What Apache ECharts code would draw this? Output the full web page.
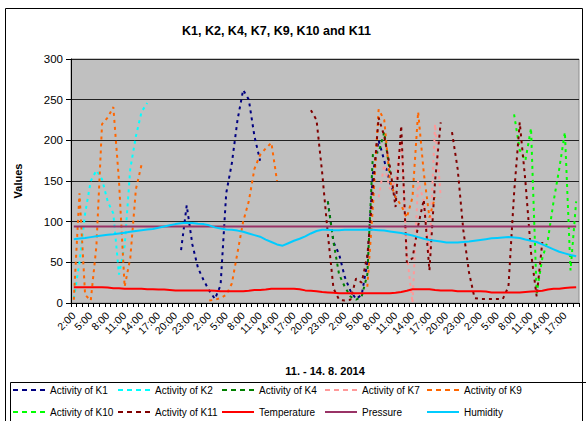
<!DOCTYPE html>
<html><head><meta charset="utf-8">
<script src="https://cdn.jsdelivr.net/npm/echarts@6/dist/echarts.min.js"></script>
<style>html,body{margin:0;padding:0;background:#fff}#c{width:586px;height:421px}</style>
</head><body><div id="c"></div>
<script>
const N = null;
// hourly categories 11.8. 2:00 ... 14.8. 19:00
const categories = [
 "2:00","3:00","4:00","5:00","6:00","7:00","8:00","9:00","10:00","11:00","12:00","13:00","14:00","15:00","16:00","17:00","18:00","19:00","20:00","21:00","22:00","23:00",
 "0:00","1:00","2:00","3:00","4:00","5:00","6:00","7:00","8:00","9:00","10:00","11:00","12:00","13:00","14:00","15:00","16:00","17:00","18:00","19:00","20:00","21:00","22:00","23:00",
 "0:00","1:00","2:00","3:00","4:00","5:00","6:00","7:00","8:00","9:00","10:00","11:00","12:00","13:00","14:00","15:00","16:00","17:00","18:00","19:00","20:00","21:00","22:00","23:00",
 "0:00","1:00","2:00","3:00","4:00","5:00","6:00","7:00","8:00","9:00","10:00","11:00","12:00","13:00","14:00","15:00","16:00","17:00","18:00","19:00"
];
const k1 = [N,N,N,N,N,N,N,N,N,N,N,N,N,N,N,N,N,N,N,
 65,120,72,43,28,15,5,22,135,172,225,262,250,205,175,
 N,N,N,N,N,N,N,N,N,N,N,
 125,75,60,32,15,5,10,50,160,200,175,148,130,
 N,N,N,N,N,N,N,N,N,N,N,N,N,N,N,N,N,N,N,N,N,N,N,N,N,N,N,N,N,N,N,N];
const k2 = [5,50,110,150,163,152,125,110,35,70,165,205,235,246,
 N,N,N,N,N,N,N,N,N,N,N,N,N,N,N,N,N,N,N,N,N,N,N,N,N,N,N,N,N,N,N,N,N,N,N,N,N,N,
 N,N,N,N,N,N,N,N,N,N,N,N,N,N,N,N,N,N,N,N,N,N,N,N,N,N,N,N,N,N,N,N,N,N,N,N,N,N];
const k4 = [N,N,N,N,N,N,N,N,N,N,N,N,N,N,N,N,N,N,N,N,N,N,N,N,N,N,N,N,N,N,N,N,N,N,N,N,N,N,N,N,N,N,N,N,N,
 125,75,35,20,8,4,8,35,185,185,210,160,
 N,N,N,N,N,N,N,N,N,N,N,N,N,N,N,N,N,N,N,N,N,N,N,N,N,N,N,N,N,N,N,N,N];
const k7 = [N,N,N,N,N,N,N,N,N,N,N,N,N,N,N,N,N,N,N,N,N,N,N,N,N,N,N,N,N,N,N,N,N,N,N,N,N,N,N,N,N,N,N,N,N,N,N,N,N,N,N,N,N,N,
 130,170,140,150,200,60,0,150,125,60,220,130,
 N,N,N,N,N,N,N,N,N,N,N,N,N,N,N,N,N,N,N,N,N,N,N,N];
const k9 = [4,135,10,3,70,220,228,241,150,20,55,140,170,
 N,N,N,N,N,N,N,N,N,N,N,
 3,4,6,10,24,62,100,125,165,182,190,197,150,
 N,N,N,N,N,N,N,N,N,N,N,N,N,N,N,
 20,120,238,225,150,130,120,105,130,235,160,105,130,
 N,N,N,N,N,N,N,N,N,N,N,N,N,N,N,N,N,N,N,N,N,N,N,N,N];
const k10 = [N,N,N,N,N,N,N,N,N,N,N,N,N,N,N,N,N,N,N,N,N,N,N,N,N,N,N,N,N,N,N,N,N,N,N,N,N,N,N,
 N,N,N,N,N,N,N,N,N,N,N,N,N,N,N,N,N,N,N,N,N,N,N,N,N,N,N,N,N,N,N,N,N,N,N,N,N,N,N,
 232,188,175,215,12,55,78,125,165,210,40,125];
const k11 = [N,N,N,N,N,N,N,N,N,N,N,N,N,N,N,N,N,N,N,N,N,N,N,N,N,N,N,N,N,N,N,N,N,N,N,N,N,N,N,N,N,N,
 237,225,160,85,18,4,3,4,30,25,58,140,228,205,168,118,218,50,55,95,127,40,150,222,
 N,
 210,165,90,38,6,5,5,5,5,5,20,135,222,150,62,8,75,
 N,N,N,N,N,N];
const temperature = [19.5,19.5,19.5,19.5,19.5,19.5,19,
 18,18,17.5,17.5,17.5,17.5,17,
 17,16.5,16.5,16,
 15.5,15.5,15.5,15.5,15.5,15.5,15.5,15,
 14.5,14.5,14.5,14.5,14.5,15,
 16,16,16.5,
 17.5,17.5,17.5,17.5,17.5,17,
 15.5,15,14.5,
 13.5,13,12.5,
 12,12,12,12,12,12,12,12,12,12,12.5,
 13.5,15,
 17,17,17,17,
 16,15.5,15.5,15.5,
 14.5,14.5,14.5,14.5,14.5,14,
 13,13,13,13,13,13,13.5,
 14,14.5,15,
 16.5,17.5,17.5,
 18.5,19,19.5];
const pressure = [94,94,94,94,94,94,94,94,94,94,94,94,94,94,94,94,94,94,94,94,94,94,94,94,94,94,94,94,94,94,
 94,94,94,94,94,94,94,94,94,94,94,94,94,94,94,94,94,94,94,94,94,94,94,94,94,94,94,94,94,94,
 94,94,94,94,94,94,94,94,94,94,94,94,94,94,94,94,94,94,94,94,94,94,94,94,94,94,94,94,94,94];
const humidity = [78.5,79.3,80,81,82,83,84,84.5,85.5,86.5,87.5,88.5,89.5,90.5,91,92.5,94,95.5,97,98,
 98.8,98.5,97.5,97,95.5,93,91.5,90.5,90,89,87.5,85.5,83.5,81.5,78,75,72,70.5,73.5,76.5,
 79,82,85.5,88.5,90,90,89.5,89.5,90,90,90,90,90.5,90,89.5,89,88,87,86,84.5,
 83,81,79,77.5,76.5,75.5,74.5,74.5,74.5,75,75.5,76.5,77.5,78.5,79.5,80,80.5,81,80.5,80,
 78,76.5,75,72,69,66,63,61,59,57.5];
const yTicks = [0, 50, 100, 150, 200, 250, 300];

const FONT = 'Liberation Sans, Arial, sans-serif';
const DASH = [3, 4];
const DASH_ICON = 'path://M0,0h5v2h-5z M9,0h5v2h-5z M18,0h5v2h-5z M27,0h5v2h-5z';

function actSeries(name, data, color) {
  return { name, type: 'line', data, symbol: 'none', connectNulls: false,
    lineStyle: { color, width: 2, type: DASH }, itemStyle: { color } };
}
function solidSeries(name, data, color) {
  return { name, type: 'line', data, symbol: 'none',
    lineStyle: { color, width: 2 }, itemStyle: { color } };
}
const seriesDefs = [
  actSeries('Activity of K1', k1, '#000080'),
  actSeries('Activity of K2', k2, '#00FFFF'),
  actSeries('Activity of K4', k4, '#008000'),
  actSeries('Activity of K7', k7, '#FF9999'),
  actSeries('Activity of K9', k9, '#FF6600'),
  actSeries('Activity of K10', k10, '#00FF00'),
  actSeries('Activity of K11', k11, '#800000'),
  solidSeries('Temperature', temperature, '#FF0000'),
  solidSeries('Pressure', pressure, '#993366'),
  solidSeries('Humidity', humidity, '#00CCFF')
];
const legendCols = [13, 118, 222, 325, 427];
const legendRows = [384, 406];
const legends = seriesDefs.map((s, k) => ({
  data: [{ name: s.name, icon: k < 7 ? DASH_ICON : 'rect' }],
  left: legendCols[k % 5], top: legendRows[Math.floor(k / 5)],
  padding: 0, itemWidth: 32, itemHeight: 2, selectedMode: false,
  itemStyle: { borderWidth: 0 },
  textStyle: { fontSize: 10, color: '#000', fontFamily: FONT, lineHeight: 12 }
}));

const chart = echarts.init(document.getElementById('c'), null, { renderer: 'svg' });
chart.setOption({
  animation: false,
  backgroundColor: '#fff',
  textStyle: { fontFamily: FONT },
  title: { text: 'K1, K2, K4, K7, K9, K10 and K11', left: 182, top: 24, padding: 0,
    textStyle: { fontSize: 12.5, fontWeight: 'bold', color: '#000', fontFamily: FONT } },
  legend: legends,
  grid: { left: 71, right: 7, top: 59, bottom: 118, show: true,
    backgroundColor: '#C0C0C0', borderColor: '#8c8c8c', borderWidth: 1 },
  xAxis: {
    type: 'category', data: categories, boundaryGap: true,
    name: '11. - 14. 8. 2014', nameLocation: 'middle', nameGap: 62,
    nameTextStyle: { fontSize: 11, fontWeight: 'bold', color: '#000', fontFamily: FONT },
    axisLine: { lineStyle: { color: '#000', width: 1 } },
    axisTick: { show: true, interval: 0, length: 4, lineStyle: { color: '#000' } },
    axisLabel: { interval: 2, rotate: 45, fontSize: 10.5, color: '#000', margin: 11, fontFamily: FONT },
    splitLine: { show: false }
  },
  yAxis: {
    type: 'value', min: yTicks[0], max: yTicks[yTicks.length - 1], interval: 50,
    name: 'Values', nameLocation: 'middle', nameGap: 48, nameRotate: 90,
    nameTextStyle: { fontSize: 11, fontWeight: 'bold', color: '#000', fontFamily: FONT },
    axisLine: { show: true, lineStyle: { color: '#000' } },
    axisTick: { show: true, length: 5, lineStyle: { color: '#000' } },
    axisLabel: { fontSize: 11.5, color: '#000', margin: 8, fontFamily: FONT },
    splitLine: { show: true, lineStyle: { color: '#222', width: 1 } }
  },
  graphic: [
    { type: 'rect', shape: { x: 5.5, y: 8.5, width: 577, height: 430 }, style: { fill: 'none', stroke: '#000', lineWidth: 1 }, silent: true, z: -10 },
    { type: 'rect', shape: { x: 10.5, y: 382.5, width: 580, height: 60 }, style: { fill: 'none', stroke: '#000', lineWidth: 1 }, silent: true, z: -10 }
  ],
  series: seriesDefs
});
</script></body></html>
